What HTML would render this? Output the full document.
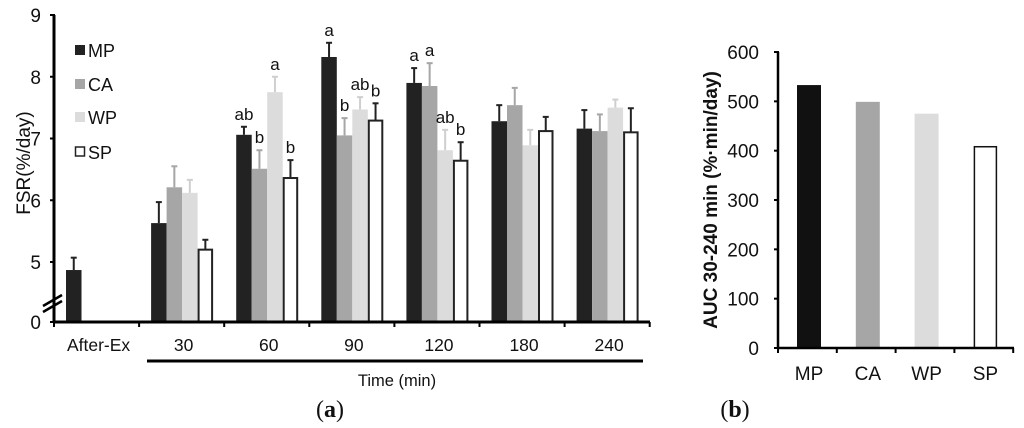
<!DOCTYPE html>
<html><head><meta charset="utf-8"><style>
html,body{margin:0;padding:0;background:#fff;}
svg{display:block;font-family:"Liberation Sans",sans-serif;}
</style></head><body>
<svg id="c" width="1024" height="428" viewBox="0 0 1024 428" xmlns="http://www.w3.org/2000/svg"></svg>
<script>
const groups = ["After-Ex","30","60","90","120","180","240"];
const series = ["MP","CA","WP","SP"];
const mpVals = [4.87,5.63,7.06,8.32,7.90,7.28,7.16];
const caVals = [null,6.21,6.51,7.05,7.85,7.54,7.12];
const wpVals = [null,6.12,7.75,7.47,6.81,6.89,7.50];
const spVals = [null,5.20,6.36,7.29,6.64,7.12,7.10];
const mpErr = [0.20,0.34,0.13,0.23,0.24,0.26,0.30];
const caErr = [null,0.34,0.30,0.28,0.37,0.28,0.27];
const wpErr = [null,0.21,0.25,0.20,0.33,0.25,0.13];
const spErr = [null,0.16,0.29,0.28,0.30,0.23,0.39];
const mpLbl = ["","","ab","a","a","",""];
const caLbl = ["","","b","b","a","",""];
const wpLbl = ["","","a","ab","ab","",""];
const spLbl = ["","","b","b","b","",""];
const yTicks = [0,5,6,7,8,9];
const aucCats = ["MP","CA","WP","SP"];
const aucVals = [533,499,475,408];
const aucTicks = [0,100,200,300,400,500,600];

const NS="http://www.w3.org/2000/svg";
const svg=document.getElementById('c');
function mk(t,a,p){const e=document.createElementNS(NS,t);for(const k in a)e.setAttribute(k,a[k]);(p||svg).appendChild(e);return e;}
const fills=["#222","#a6a6a6","#dcdcdc","#fff"];
const errCols=["#222","#a6a6a6","#cfcfcf","#222"];
function yA(v){ if(v===0) return 322; return 262-(v-5)*61.75; }
const x0=54, gw=85.1;
function xBar(g,s){ return x0+g*gw+12+s*15.5; }

const vals=[mpVals,caVals,wpVals,spVals], errs=[mpErr,caErr,wpErr,spErr], lbls=[mpLbl,caLbl,wpLbl,spLbl];
for(let s=0;s<4;s++){
  for(let g=0;g<groups.length;g++){
    const v=vals[s][g]; if(v==null) continue;
    const x=xBar(g,s), top=yA(v);
    const e=errs[s][g], et=yA(v+e), cx=x+7.75;
    const ln=mk('line',{x1:cx,x2:cx,y1:top,y2:et,stroke:errCols[s],'stroke-width':2});
    
    
    const cap=mk('line',{x1:cx-3,x2:cx+3,y1:et,y2:et,stroke:errCols[s],'stroke-width':2});
    
    
    const sp=s===3;
    const r=mk('rect',{x:sp?x+1:x,y:top,width:sp?13.5:15.5,height:322-top,fill:fills[s],stroke:sp?'#222':'none','stroke-width':sp?2:0});
    
    
    if(lbls[s][g]){
      const t=mk('text',{x:cx,y:et-7,'text-anchor':'middle','font-size':17,fill:'#111'});
      t.textContent=lbls[s][g];
      
      
    }
  }
}
const ya=mk('line',{x1:54,x2:54,y1:15,y2:323,stroke:'#000','stroke-width':3});

const xa=mk('line',{x1:53,x2:650,y1:322,y2:322,stroke:'#000','stroke-width':3});

for(const v of yTicks){
  const y=yA(v);
  const tk=mk('line',{x1:50,x2:55,y1:y,y2:y,stroke:'#000','stroke-width':2});
  
  const t=mk('text',{x:41,y:y+7,'text-anchor':'end','font-size':19,fill:'#111'});
  t.textContent=v;
  
}
for(let g=0;g<=groups.length;g++){
  const x=x0+g*gw;
  const tk=mk('line',{x1:x,x2:x,y1:322,y2:327,stroke:'#000','stroke-width':2});
  
  if(g<groups.length){
    const t=mk('text',{x:x+gw/2+2,y:351,'text-anchor':'middle','font-size':17.5,fill:'#111'});
    t.textContent=groups[g];
    
  }
}
const br=mk('path',{d:'M43,312 L62,301 M43,306 L62,295',stroke:'#000','stroke-width':2.5,fill:'none'});

const ul=mk('line',{x1:147,x2:643,y1:361,y2:361,stroke:'#000','stroke-width':3});

let t=mk('text',{x:397,y:386,'text-anchor':'middle','font-size':16.5,fill:'#111'});t.textContent='Time (min)';

t=mk('text',{x:0,y:0,'text-anchor':'middle','font-size':19,fill:'#111',transform:'translate(30,163) rotate(-90)'});t.textContent='FSR(%/day)';

const legY=[50,84,117,152];
for(let s=0;s<4;s++){
  const r=mk('rect',{x:s===3?75.5:75,y:legY[s]-5,width:s===3?9:10,height:s===3?9:10,fill:fills[s],stroke:s===3?'#222':'none','stroke-width':s===3?1.5:0});
  
  const lt=mk('text',{x:88,y:legY[s]+7,'font-size':18,fill:'#111'});lt.textContent=series[s];
  
}
t=mk('text',{x:330,y:417,'text-anchor':'middle','font-size':24,'font-family':'Liberation Serif, serif',fill:'#111'});
t.innerHTML='(<tspan font-weight="bold">a</tspan>)';


function yB(v){return 348-v*0.4933;}
const bx0=778,bgw=58.8;
for(let i=0;i<aucCats.length;i++){
  const x=bx0+i*bgw+19, top=yB(aucVals[i]);
  const sp=i===3;
  const r=mk('rect',{x:sp?x+1:x,y:top,width:sp?22:24,height:348-top,fill:fills[i]==="#222"?"#111":fills[i],stroke:sp?'#111':'none','stroke-width':sp?1.5:0});
  
  const lt=mk('text',{x:x+12,y:380,'text-anchor':'middle','font-size':19,fill:'#111'});lt.textContent=aucCats[i];
  
}
const ya2=mk('line',{x1:778,x2:778,y1:52,y2:349,stroke:'#000','stroke-width':2.5});

const xa2=mk('line',{x1:777,x2:1014,y1:348,y2:348,stroke:'#000','stroke-width':2.5});

for(const v of aucTicks){
  const y=yB(v);
  const tk=mk('line',{x1:774,x2:779,y1:y,y2:y,stroke:'#000','stroke-width':2});
  
  const lt=mk('text',{x:759,y:y+7,'text-anchor':'end','font-size':19,fill:'#111'});lt.textContent=v;
  
}
for(let i=0;i<=aucCats.length;i++){
  const x=bx0+i*bgw;
  const tk=mk('line',{x1:x,x2:x,y1:348,y2:353,stroke:'#000','stroke-width':2});
  
}
t=mk('text',{x:0,y:0,'text-anchor':'middle','font-size':19,'font-weight':'bold',fill:'#111',transform:'translate(717,200) rotate(-90)'});
t.textContent='AUC 30-240 min (%·min/day)';

t=mk('text',{x:735,y:417,'text-anchor':'middle','font-size':24,'font-family':'Liberation Serif, serif',fill:'#111'});
t.innerHTML='(<tspan font-weight="bold">b</tspan>)';

</script>
</body></html>
